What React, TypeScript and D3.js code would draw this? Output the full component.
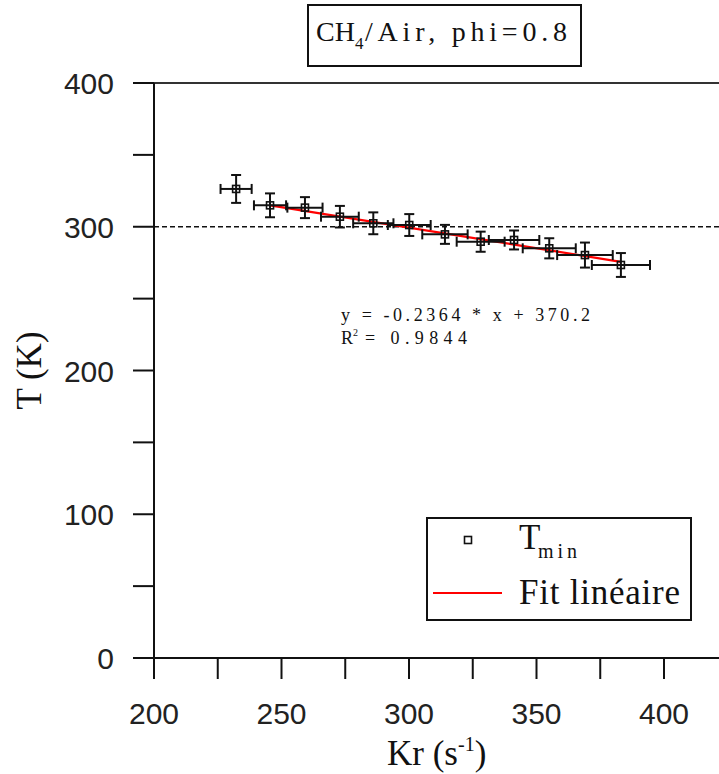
import React from "react";
import * as d3 from "d3";

const kr = [232.2, 245.5, 259.2, 272.9, 286.0, 300.1, 314.1, 328.1, 341.2, 355.0, 369.0, 383.1];
const tmin = [326.3, 314.9, 313.3, 307.0, 302.4, 301.2, 294.7, 289.6, 290.8, 285.0, 280.3, 273.4];
const krErr = [6.1, 6.3, 6.9, 7.4, 7.9, 8.4, 8.9, 9.4, 9.9, 10.4, 10.9, 11.4];
const tErr = [9.7, 8.3, 7.3, 7.5, 7.6, 7.6, 6.6, 7.0, 6.6, 7.0, 8.7, 8.3];
const fitX = [245.5, 383.1];
const fitY = [314.9, 275.6];
const xTicks = [200, 250, 300, 350, 400];
const yTicks = [0, 100, 200, 300, 400];
const refLine = 300;

const W = 719;
const H = 774;

export default function App() {
  const x = d3.scaleLinear().domain([200, 400]).range([154, 664]);
  const y = d3.scaleLinear().domain([0, 400]).range([658, 83]);
  const xMinor = d3.range(200, 401, 25);
  const yMinor = d3.range(0, 401, 50);
  const tick = 21;
  const serif = "'Liberation Serif', 'DejaVu Serif', serif";
  const sans = "'Liberation Sans', Arial, sans-serif";
  const ink = "#111";
  const fitLine = d3.line<number>().x((d) => x(d)).y((_, i) => y(fitY[i]));
  const capV = 5;
  const capH = 5;

  return (
    <svg
      width={W}
      height={H}
      style={{ position: "absolute", left: 0, top: 0, background: "#fff" }}
    >
      <rect x={0} y={0} width={W} height={H} fill="#fff" />
      {/* title box */}
      <rect x={308} y={5} width={273} height={61} fill="#fff" stroke={ink} strokeWidth={2} />
      <text x={316} y={41} fontFamily={serif} fontSize={28} fill={ink}>CH</text>
      <text x={355} y={49} fontFamily={serif} fontSize={17} fill={ink}>4</text>
      <text x={365} y={41} fontFamily={serif} fontSize={28} fill={ink} textLength={202} lengthAdjust="spacing">/Air, phi=0.8</text>

      {/* top frame */}
      <line x1={133} x2={W} y1={y(400)} y2={y(400)} stroke="#333" strokeWidth={2} />
      {/* axes */}
      <line x1={133} x2={W} y1={y(0)} y2={y(0)} stroke={ink} strokeWidth={2} />
      <line x1={x(200)} x2={x(200)} y1={y(400)} y2={y(0) + tick} stroke={ink} strokeWidth={2} />
      {xMinor.map((v) => (
        <line key={"xt" + v} x1={x(v)} x2={x(v)} y1={y(0)} y2={y(0) + tick} stroke={ink} strokeWidth={2} />
      ))}
      {yMinor.map((v) => (
        <line key={"yt" + v} x1={x(200) - tick} x2={x(200)} y1={y(v)} y2={y(v)} stroke={ink} strokeWidth={2} />
      ))}
      {xTicks.map((v) => (
        <text key={"xl" + v} x={x(v)} y={y(0) + 66} textAnchor="middle" fontFamily={sans} fontSize={30} fill="#222">
          {v}
        </text>
      ))}
      {yTicks.map((v) => (
        <text key={"yl" + v} x={114} y={y(v) + 11} textAnchor="end" fontFamily={sans} fontSize={30} fill="#222">
          {v}
        </text>
      ))}

      {/* axis titles */}
      <g transform={`translate(41,${y(200)}) rotate(-90)`}>
        <text x={0} y={0} textAnchor="middle" fontFamily={serif} fontSize={35} fill={ink}>T (K)</text>
      </g>
      <text x={387} y={765} fontFamily={serif} fontSize={35} fill={ink}>
        <tspan>Kr (s</tspan>
        <tspan dy={-14} fontSize={20}>-1</tspan>
        <tspan dy={14}>)</tspan>
      </text>

      {/* reference dashed line */}
      <line x1={x(200)} x2={W} y1={y(refLine)} y2={y(refLine)} stroke={ink} strokeWidth={1.6} strokeDasharray="5,3" />

      {/* fit */}
      <path d={fitLine(fitX) || ""} fill="none" stroke="#ff0000" strokeWidth={2.2} />

      {/* error bars and markers */}
      {kr.map((k, i) => {
        const cx = x(k);
        const cy = y(tmin[i]);
        const x0 = x(k - krErr[i]);
        const x1 = x(k + krErr[i]);
        const y0 = y(tmin[i] - tErr[i]);
        const y1 = y(tmin[i] + tErr[i]);
        return (
          <g key={"p" + i} stroke={ink} strokeWidth={2} fill="none">
            <line x1={x0} x2={x1} y1={cy} y2={cy} />
            <line x1={x0} x2={x0} y1={cy - capH} y2={cy + capH} />
            <line x1={x1} x2={x1} y1={cy - capH} y2={cy + capH} />
            <line x1={cx} x2={cx} y1={y0} y2={y1} />
            <line x1={cx - capV} x2={cx + capV} y1={y0} y2={y0} />
            <line x1={cx - capV} x2={cx + capV} y1={y1} y2={y1} />
            <rect x={cx - 3.5} y={cy - 3.5} width={7} height={7} strokeWidth={1.6} />
          </g>
        );
      })}

      {/* equation */}
      <text x={341} y={321} fontFamily={serif} fontSize={18} fill={ink} textLength={249} lengthAdjust="spacing">y = -0.2364 * x + 370.2</text>
      <text x={341} y={344} fontFamily={serif} fontSize={18} fill={ink}>R</text>
      <text x={353} y={336} fontFamily={serif} fontSize={10} fill={ink}>2</text>
      <text x={365} y={344} fontFamily={serif} fontSize={18} fill={ink} textLength={102} lengthAdjust="spacing">= 0.9844</text>

      {/* legend */}
      <rect x={427} y={518} width={264} height={102} fill="#fff" stroke={ink} strokeWidth={2} />
      <rect x={464.5} y={536.5} width={7} height={7} fill="none" stroke={ink} strokeWidth={1.6} />
      <text x={519} y={549} fontFamily={serif} fontSize={35} fill={ink}>T</text>
      <text x={538} y={558} fontFamily={serif} fontSize={20} fill={ink} textLength={39} lengthAdjust="spacing">min</text>
      <line x1={433} x2={502} y1={593} y2={593} stroke="#ff0000" strokeWidth={2} />
      <text x={519} y={604} fontFamily={serif} fontSize={35} fill={ink} textLength={161} lengthAdjust="spacing">Fit linéaire</text>
    </svg>
  );
}
